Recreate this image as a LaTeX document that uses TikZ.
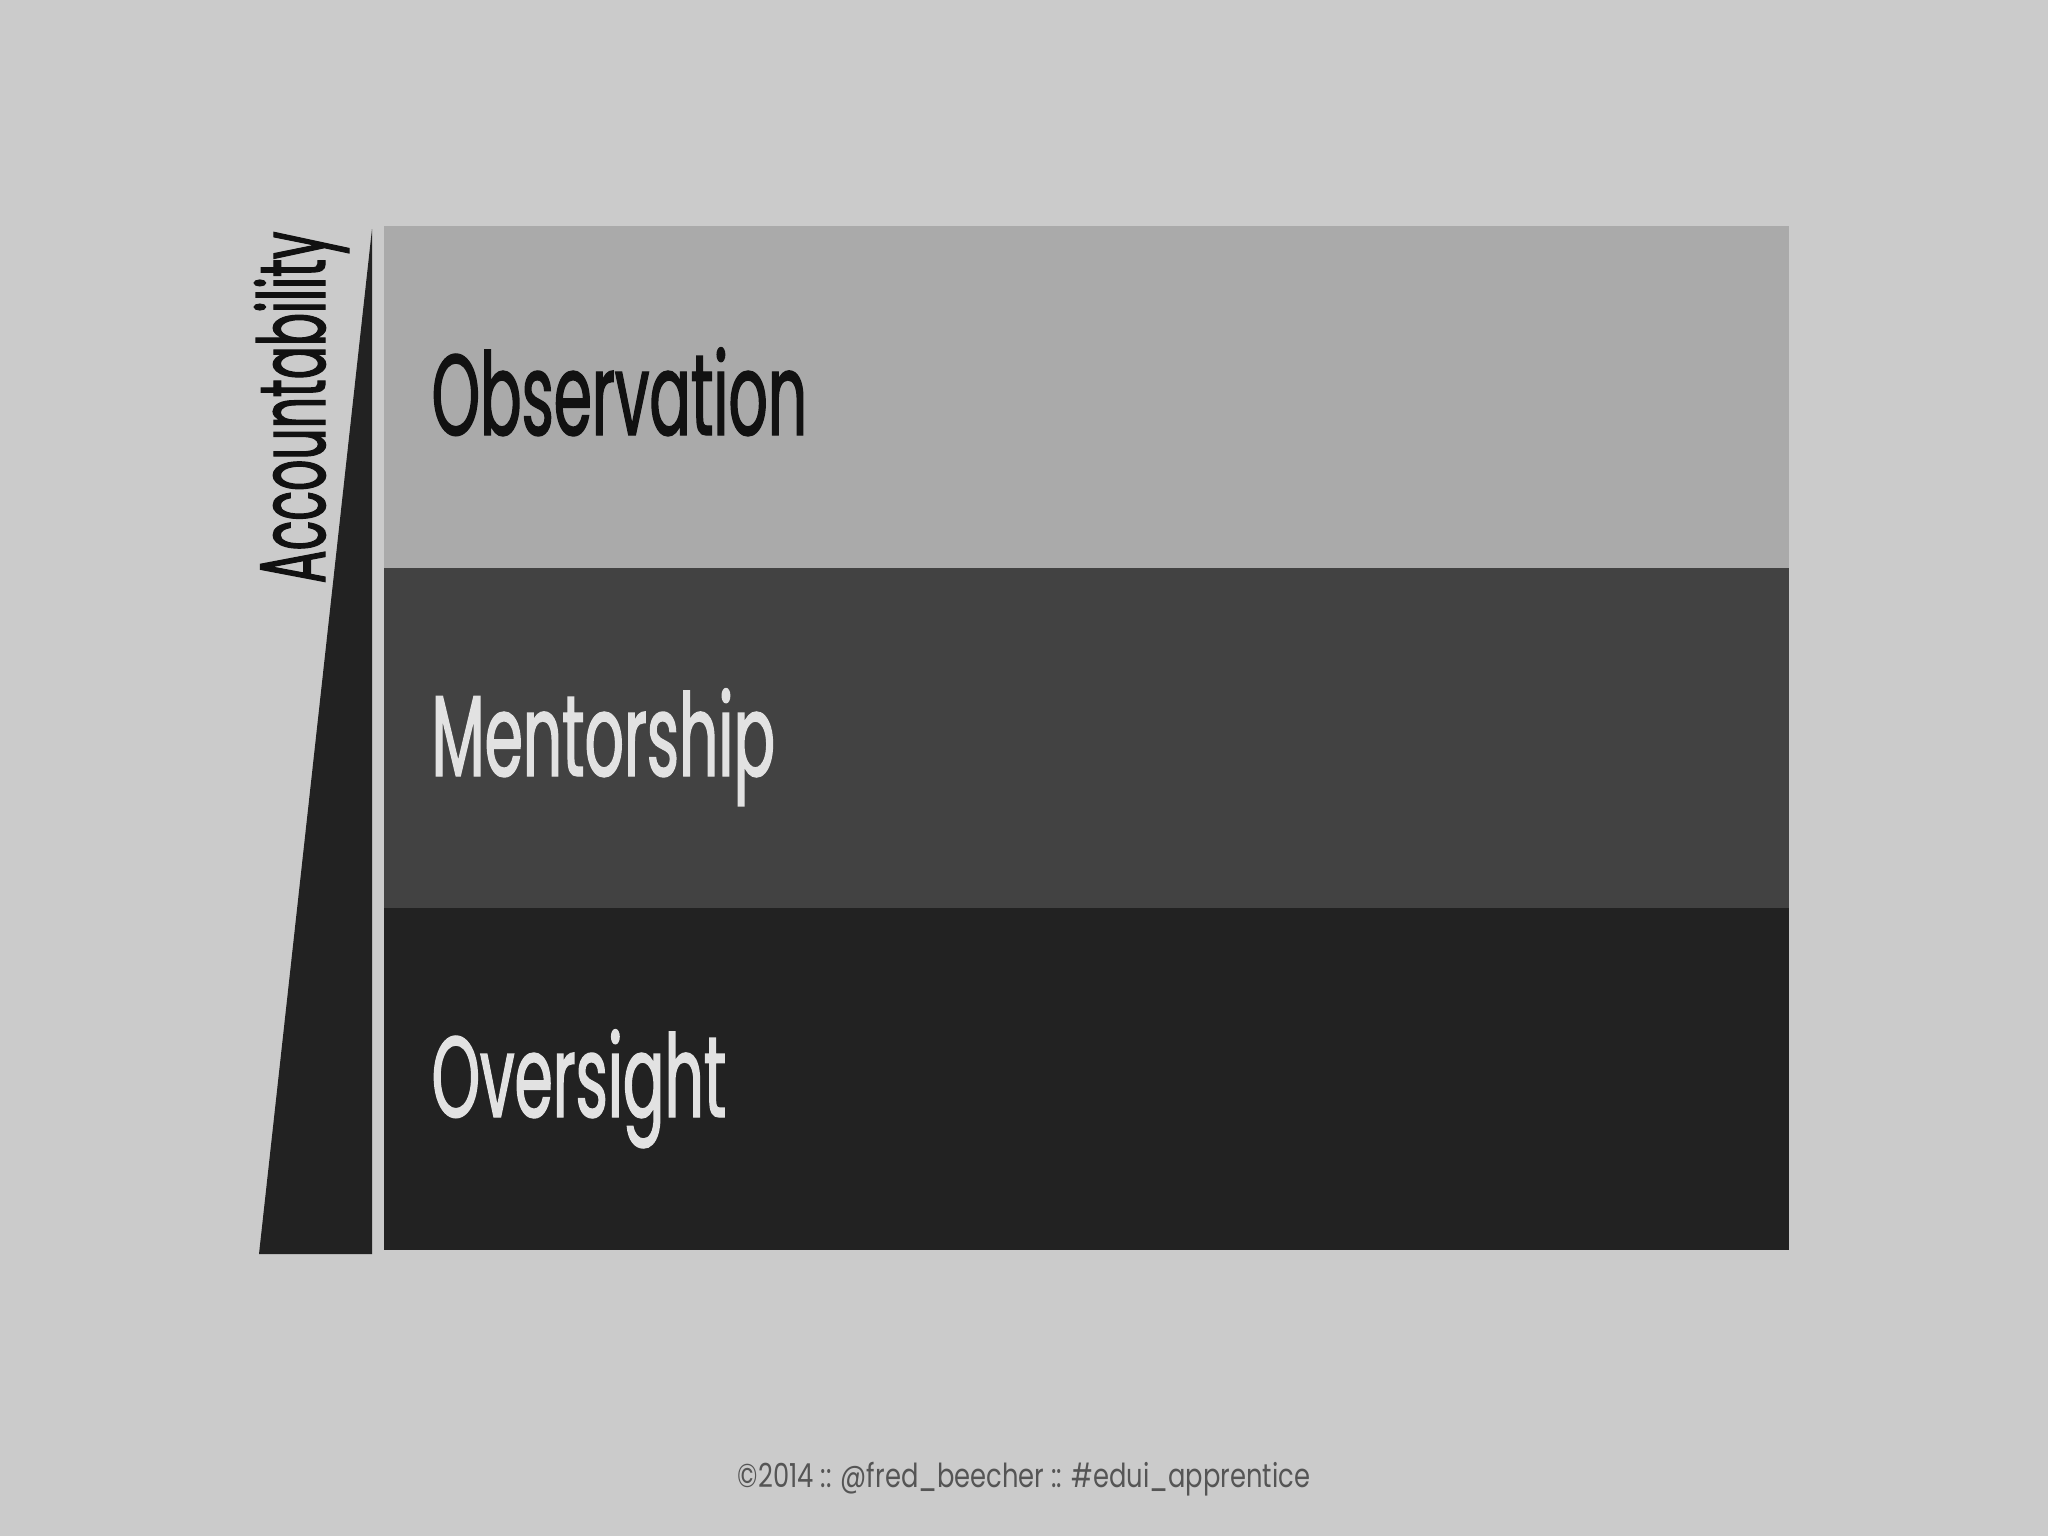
\documentclass[tikz,border=0pt]{standalone}
\usepackage{fontspec}
\setmainfont{Poppins}
\newfontfamily\condfont[FakeStretch=0.535,FakeBold=1.2]{Poppins}
\newfontfamily\accfont[FakeStretch=0.525,FakeBold=1.2]{Poppins}
\newfontfamily\footfont[FakeStretch=0.78]{Poppins}
\definecolor{bgcol}{HTML}{CBCBCB}
\definecolor{obsfill}{HTML}{AAAAAA}
\definecolor{menfill}{HTML}{424242}
\definecolor{ovfill}{HTML}{222222}
\definecolor{darktext}{HTML}{111111}
\definecolor{lighttext}{HTML}{E2E2E2}
\definecolor{foottext}{HTML}{555555}
\begin{document}
\begin{tikzpicture}
  [x=0.01cm,y=-0.01cm,every node/.style={inner sep=0pt},
   band/.style={anchor=base west,font=\condfont\fontsize{32.7}{34}\selectfont}]
  \fill[bgcol] (0,0) rectangle (2048,1536);
  \foreach \ytop/\col in {226/obsfill,568/menfill,908/ovfill}
    \fill[\col] (384,\ytop) rectangle ++(1405,342);
  \fill[ovfill] (259,1254) -- (372,229) -- (372,1254) -- cycle;

  \node (obs)[band,text=darktext] at (431,435) {Observation};
  \node (men)[band,text=lighttext] at (431,776) {Mentorship};
  \node (ov)[band,text=lighttext] at (431,1117) {Oversight};
  \node (acc)[anchor=base west,rotate=90,text=darktext,
    font=\accfont\fontsize{26.5}{28}\selectfont] at (325,584) {Accountability};
  \node (foot)[anchor=base,text=foottext,
    font=\footfont\fontsize{9.4}{11}\selectfont] at (1024,1487)
    {©2014 :: @fred\_beecher :: \#edui\_apprentice};
\end{tikzpicture}
\end{document}
